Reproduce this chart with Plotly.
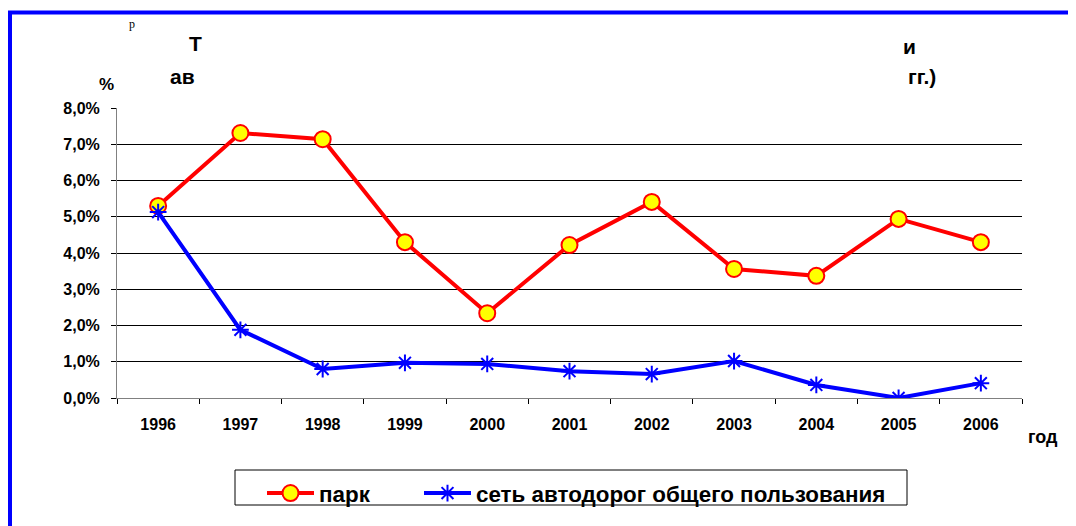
import plotly.graph_objects as go

years = ["1996", "1997", "1998", "1999", "2000", "2001", "2002", "2003", "2004", "2005", "2006"]
park = [5.30, 7.31, 7.14, 4.30, 2.34, 4.22, 5.41, 3.56, 3.37, 4.94, 4.30]
roads = [5.13, 1.88, 0.80, 0.97, 0.94, 0.74, 0.66, 1.02, 0.36, 0.00, 0.41]
y_ticks = [0, 1, 2, 3, 4, 5, 6, 7, 8]
y_tick_text = ["0,0%", "1,0%", "2,0%", "3,0%", "4,0%", "5,0%", "6,0%", "7,0%", "8,0%"]
name_park = "парк"
name_roads = "сеть автодорог общего пользования"

# page body has an 8px margin: work in screen pixels and convert
OFF = 8
W, H = 1076 - OFF, 526 - OFF
PL, PR, PT, PB = 117, 1022, 108, 398  # plot area in screen px
L, R, T, B = PL - OFF, W - (PR - OFF), PT - OFF, H - (PB - OFF)
pw, ph = PR - PL, PB - PT

def px(x):
    return (x - PL) / pw

def py(y):
    return (PB - y) / ph

FONT = "Liberation Sans, Arial, sans-serif"

fig = go.Figure()
fig.add_trace(go.Scatter(
    x=years, y=park, name=name_park, mode="lines+markers",
    line=dict(color="#ff0000", width=4),
    marker=dict(symbol="circle", size=16, color="#ffff00",
                line=dict(color="#ff0000", width=2)),
    legend="legend",
))
fig.add_trace(go.Scatter(
    x=years, y=roads, name=name_roads, mode="lines+markers",
    line=dict(color="#0000ff", width=4),
    marker=dict(symbol="asterisk-open", size=14, color="#0000ff",
                line=dict(color="#0000ff", width=2)),
    legend="legend2",
))

leg_common = dict(
    orientation="h", yanchor="top", y=py(472),
    borderwidth=0, bgcolor="rgba(0,0,0,0)",
    font=dict(family=FONT, size=22.4, color="black", weight="bold"),
    itemwidth=47,
)

def lab(text, x, y, size=21, family=FONT, weight="bold"):
    return dict(text=text, xref="paper", yref="paper", x=px(x), y=py(y),
                xanchor="center", yanchor="middle", showarrow=False,
                font=dict(family=family, size=size, color="black", weight=weight))

fig.update_layout(
    width=W, height=H,
    margin=dict(l=L, r=R, t=T, b=B, autoexpand=False),
    paper_bgcolor="white", plot_bgcolor="white",
    font=dict(family=FONT, size=16, color="black"),
    showlegend=True,
    legend=dict(x=px(262), xanchor="left", **leg_common),
    legend2=dict(x=px(419), xanchor="left", **leg_common),
    xaxis=dict(
        type="category", range=[-0.5, 10.5],
        tickson="boundaries", ticks="outside", ticklen=5, tickcolor="black",
        showline=True, linecolor="#808080", linewidth=1, showgrid=False,
        tickfont=dict(family=FONT, size=16, color="black", weight="bold"),
        ticklabelstandoff=12, zeroline=False,
    ),
    yaxis=dict(
        range=[0, 8], tickvals=y_ticks, ticktext=y_tick_text,
        ticks="outside", ticklen=5, tickcolor="black",
        showline=True, linecolor="#808080", linewidth=1,
        showgrid=True, gridcolor="black", gridwidth=1, zeroline=False,
        tickfont=dict(family=FONT, size=16, color="black", weight="bold"),
        ticklabelstandoff=8,
    ),
    shapes=[
        dict(type="rect", xref="paper", yref="paper",
             x0=px(10), x1=px(1300), y0=py(12.5), y1=py(800),
             line=dict(color="#0000ff", width=4), fillcolor="rgba(0,0,0,0)",
             layer="below"),
        dict(type="rect", xref="paper", yref="paper",
             x0=px(235), x1=px(907), y0=py(470), y1=py(505),
             line=dict(color="black", width=1), fillcolor="white",
             layer="below"),
    ],
    annotations=[
        lab("%", 106, 84, size=17),
        lab("год", 1043, 437, size=18),
        lab("Т", 195, 43),
        lab("ав", 182, 77),
        lab("и", 909, 46),
        lab("гг.)", 922, 77),
        lab("р", 132, 24, size=12, family="Liberation Serif, serif", weight="normal"),
    ],
)

fig.write_html("out.html")
